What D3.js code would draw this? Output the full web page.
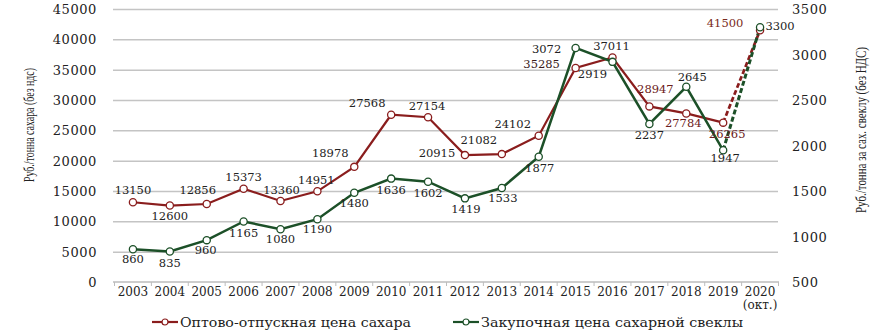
<!DOCTYPE html>
<html>
<head>
<meta charset="utf-8">
<script src="https://cdn.jsdelivr.net/npm/d3@7"></script>
<style>
  body { margin: 0; background: #fff; }
  svg { display: block; }
  .tick-text { font-family: "DejaVu Serif", serif; fill: #222; }
  .val { font-family: "DejaVu Serif", serif; font-size: 11.5px; fill: #222; }
</style>
</head>
<body>
<div id="chart"><svg></svg></div>
<script>
// years on the x axis
var years = ['2003','2004','2005','2006','2007','2008','2009','2010','2011','2012','2013','2014','2015','2016','2017','2018','2019','2020'];
// wholesale sugar price, rub/t (left axis)
var sugarPrice = [13150, 12600, 12856, 15373, 13360, 14951, 18978, 27568, 27154, 20915, 21082, 24102, 35285, 37011, 28947, 27784, 26265, 41500];
// sugar beet purchase price, rub/t (right axis)
var beetPrice = [860, 835, 960, 1165, 1080, 1190, 1480, 1636, 1602, 1419, 1533, 1877, 3072, 2919, 2237, 2645, 1947, 3300];
var leftTicks = [0, 5000, 10000, 15000, 20000, 25000, 30000, 35000, 40000, 45000];
var rightTicks = [500, 1000, 1500, 2000, 2500, 3000, 3500];
var seriesNames = ['Оптово-отпускная цена сахара', 'Закупочная цена сахарной свеклы'];

// label placement [dx, dy] relative to each point
var sugarLabelPos = [[0,-12],[0,10],[-9,-14],[0,-12],[1,-11],[-1,-11],[-24,-14],[-24,-12],[-1,-11],[-28,-2],[-23,-14],[-26,-12],[-34,-4],[-1,-11],[6,-17],[-3,10],[4,11],[-35,-7]];
var beetLabelPos = [[0,10],[0,11],[-1,10],[0,11],[0,10],[0,10],[0,10],[0,11],[0,11],[1,11],[1,10],[1,11],[-29,1],[-20,12],[0,11],[6,-10],[2,8],[20,-1]];
var sugarLabelColor = ['#222','#222','#222','#222','#222','#222','#222','#222','#222','#222','#222','#222','#3a1a1a','#222','#6b2020','#6b2020','#6b2020','#7a2a20'];

var width = 875, height = 330;
var red = '#8a1d1d', green = '#1c5028';

var svg = d3.select('svg').attr('width', width).attr('height', height);

var x = d3.scaleBand().domain(years).range([114.5, 778.5]);
var yL = d3.scaleLinear().domain([0, 45000]).range([282, 9]);
var yR = d3.scaleLinear().domain([500, 3500]).range([282, 9]);
var cx = function(i) { return x(years[i]) + x.bandwidth() / 2; };

// grid lines
svg.append('g')
  .attr('transform', 'translate(113,0)')
  .call(d3.axisLeft(yL).tickValues(leftTicks.slice(1)).tickSize(-665).tickFormat(''))
  .call(function(g) {
    g.select('.domain').remove();
    g.selectAll('line').attr('stroke', '#c4c4c4').attr('stroke-width', 1.5);
  });

// left axis labels
svg.append('g')
  .attr('transform', 'translate(100,0)')
  .call(d3.axisLeft(yL).tickValues(leftTicks).tickSize(0).tickFormat(d3.format('d')))
  .call(function(g) {
    g.select('.domain').remove();
    g.selectAll('text').attr('class', 'tick-text').style('font-size', '13px')
      .attr('letter-spacing', '0.6px').attr('dy', '0.35em');
  });

// right axis labels
svg.append('g')
  .attr('transform', 'translate(792,0)')
  .call(d3.axisRight(yR).tickValues(rightTicks).tickSize(0).tickFormat(d3.format('d')))
  .call(function(g) {
    g.select('.domain').remove();
    g.selectAll('text').attr('class', 'tick-text').style('font-size', '13px')
      .attr('letter-spacing', '0.6px').attr('x', 0).attr('dy', '0.35em');
  });

// x axis
var xAxis = svg.append('g').attr('transform', 'translate(0,282)');
xAxis.append('line').attr('x1', 113).attr('x2', 779).attr('stroke', '#bdbdbd').attr('stroke-width', 1.5);
xAxis.selectAll('.xt').data(d3.range(years.length + 1)).enter().append('line')
  .attr('x1', function(i) { return x.range()[0] + i * x.step(); })
  .attr('x2', function(i) { return x.range()[0] + i * x.step(); })
  .attr('y1', 0).attr('y2', 4)
  .attr('stroke', '#bdbdbd');
var xl = xAxis.selectAll('.xl').data(years).enter().append('text')
  .attr('class', 'tick-text')
  .style('font-size', '12px')
  .attr('text-anchor', 'middle')
  .attr('x', function(d) { return x(d) + x.bandwidth() / 2; })
  .attr('y', 14);
xl.append('tspan').text(function(d) { return d; });
xl.filter(function(d) { return d === '2020'; })
  .append('tspan').attr('x', cx(17)).attr('dy', 13).text('(окт.)');

// axis titles
svg.append('text')
  .attr('transform', 'translate(34,125) rotate(-90)')
  .attr('text-anchor', 'middle')
  .attr('textLength', 114).attr('lengthAdjust', 'spacingAndGlyphs')
  .style('font-family', 'Liberation Serif, serif').style('font-size', '14px').style('fill', '#222')
  .text('Руб./тонна сахара (без ндс)');
svg.append('text')
  .attr('transform', 'translate(866,130) rotate(-90)')
  .attr('text-anchor', 'middle')
  .attr('textLength', 166).attr('lengthAdjust', 'spacingAndGlyphs')
  .style('font-family', 'Liberation Serif, serif').style('font-size', '14px').style('fill', '#222')
  .text('Руб./тонна за сах. свеклу (без НДС)');

function drawSeries(values, y, color, lw) {
  var line = d3.line().x(function(d, i) { return cx(i); }).y(function(d) { return y(d); });
  var n = values.length;
  svg.append('path')
    .datum(values.slice(0, n - 1))
    .attr('d', line)
    .attr('fill', 'none').attr('stroke', color).attr('stroke-width', lw);
  var last = d3.line().x(function(d) { return cx(d[0]); }).y(function(d) { return y(d[1]); });
  svg.append('path')
    .datum([[n - 2, values[n - 2]], [n - 1, values[n - 1]]])
    .attr('d', last)
    .attr('fill', 'none').attr('stroke', color).attr('stroke-width', lw + 0.5)
    .attr('stroke-dasharray', '5,2.5');
}

drawSeries(sugarPrice, yL, red, 2.2);
drawSeries(beetPrice, yR, green, 2.5);

function drawMarkers(values, y, color) {
  svg.append('g').selectAll('circle').data(values).enter().append('circle')
    .attr('cx', function(d, i) { return cx(i); })
    .attr('cy', function(d) { return y(d); })
    .attr('r', 3.6)
    .attr('fill', '#fff').attr('stroke', color).attr('stroke-width', 1.3);
}
drawMarkers(sugarPrice, yL, red);
drawMarkers(beetPrice, yR, green);

// value labels
svg.append('g').selectAll('text').data(sugarPrice).enter().append('text')
  .attr('class', 'val')
  .attr('text-anchor', 'middle')
  .attr('x', function(d, i) { return cx(i) + sugarLabelPos[i][0]; })
  .attr('y', function(d, i) { return yL(d) + sugarLabelPos[i][1]; })
  .attr('dy', '0.35em')
  .style('fill', function(d, i) { return sugarLabelColor[i]; })
  .text(function(d) { return d; });
svg.append('g').selectAll('text').data(beetPrice).enter().append('text')
  .attr('class', 'val')
  .attr('text-anchor', 'middle')
  .attr('x', function(d, i) { return cx(i) + beetLabelPos[i][0]; })
  .attr('y', function(d, i) { return yR(d) + beetLabelPos[i][1]; })
  .attr('dy', '0.35em')
  .text(function(d) { return d; });

// legend
var legend = svg.append('g').attr('transform', 'translate(0,322)');
var legItems = [{x: 152, color: red, text: seriesNames[0], len: 231}, {x: 453, color: green, text: seriesNames[1], len: 262}];
legItems.forEach(function(it) {
  legend.append('line').attr('x1', it.x).attr('x2', it.x + 26).attr('y1', 0).attr('y2', 0)
    .attr('stroke', it.color).attr('stroke-width', 2.2);
  legend.append('circle').attr('cx', it.x + 13).attr('cy', 0).attr('r', 3)
    .attr('fill', '#fff').attr('stroke', it.color).attr('stroke-width', 1.2);
  legend.append('text').attr('x', it.x + 28).attr('y', 0).attr('dy', '0.35em')
    .attr('textLength', it.len).attr('lengthAdjust', 'spacingAndGlyphs')
    .style('font-family', 'DejaVu Serif, serif').style('font-size', '13px').style('fill', '#222')
    .text(it.text);
});
</script>
</body>
</html>
